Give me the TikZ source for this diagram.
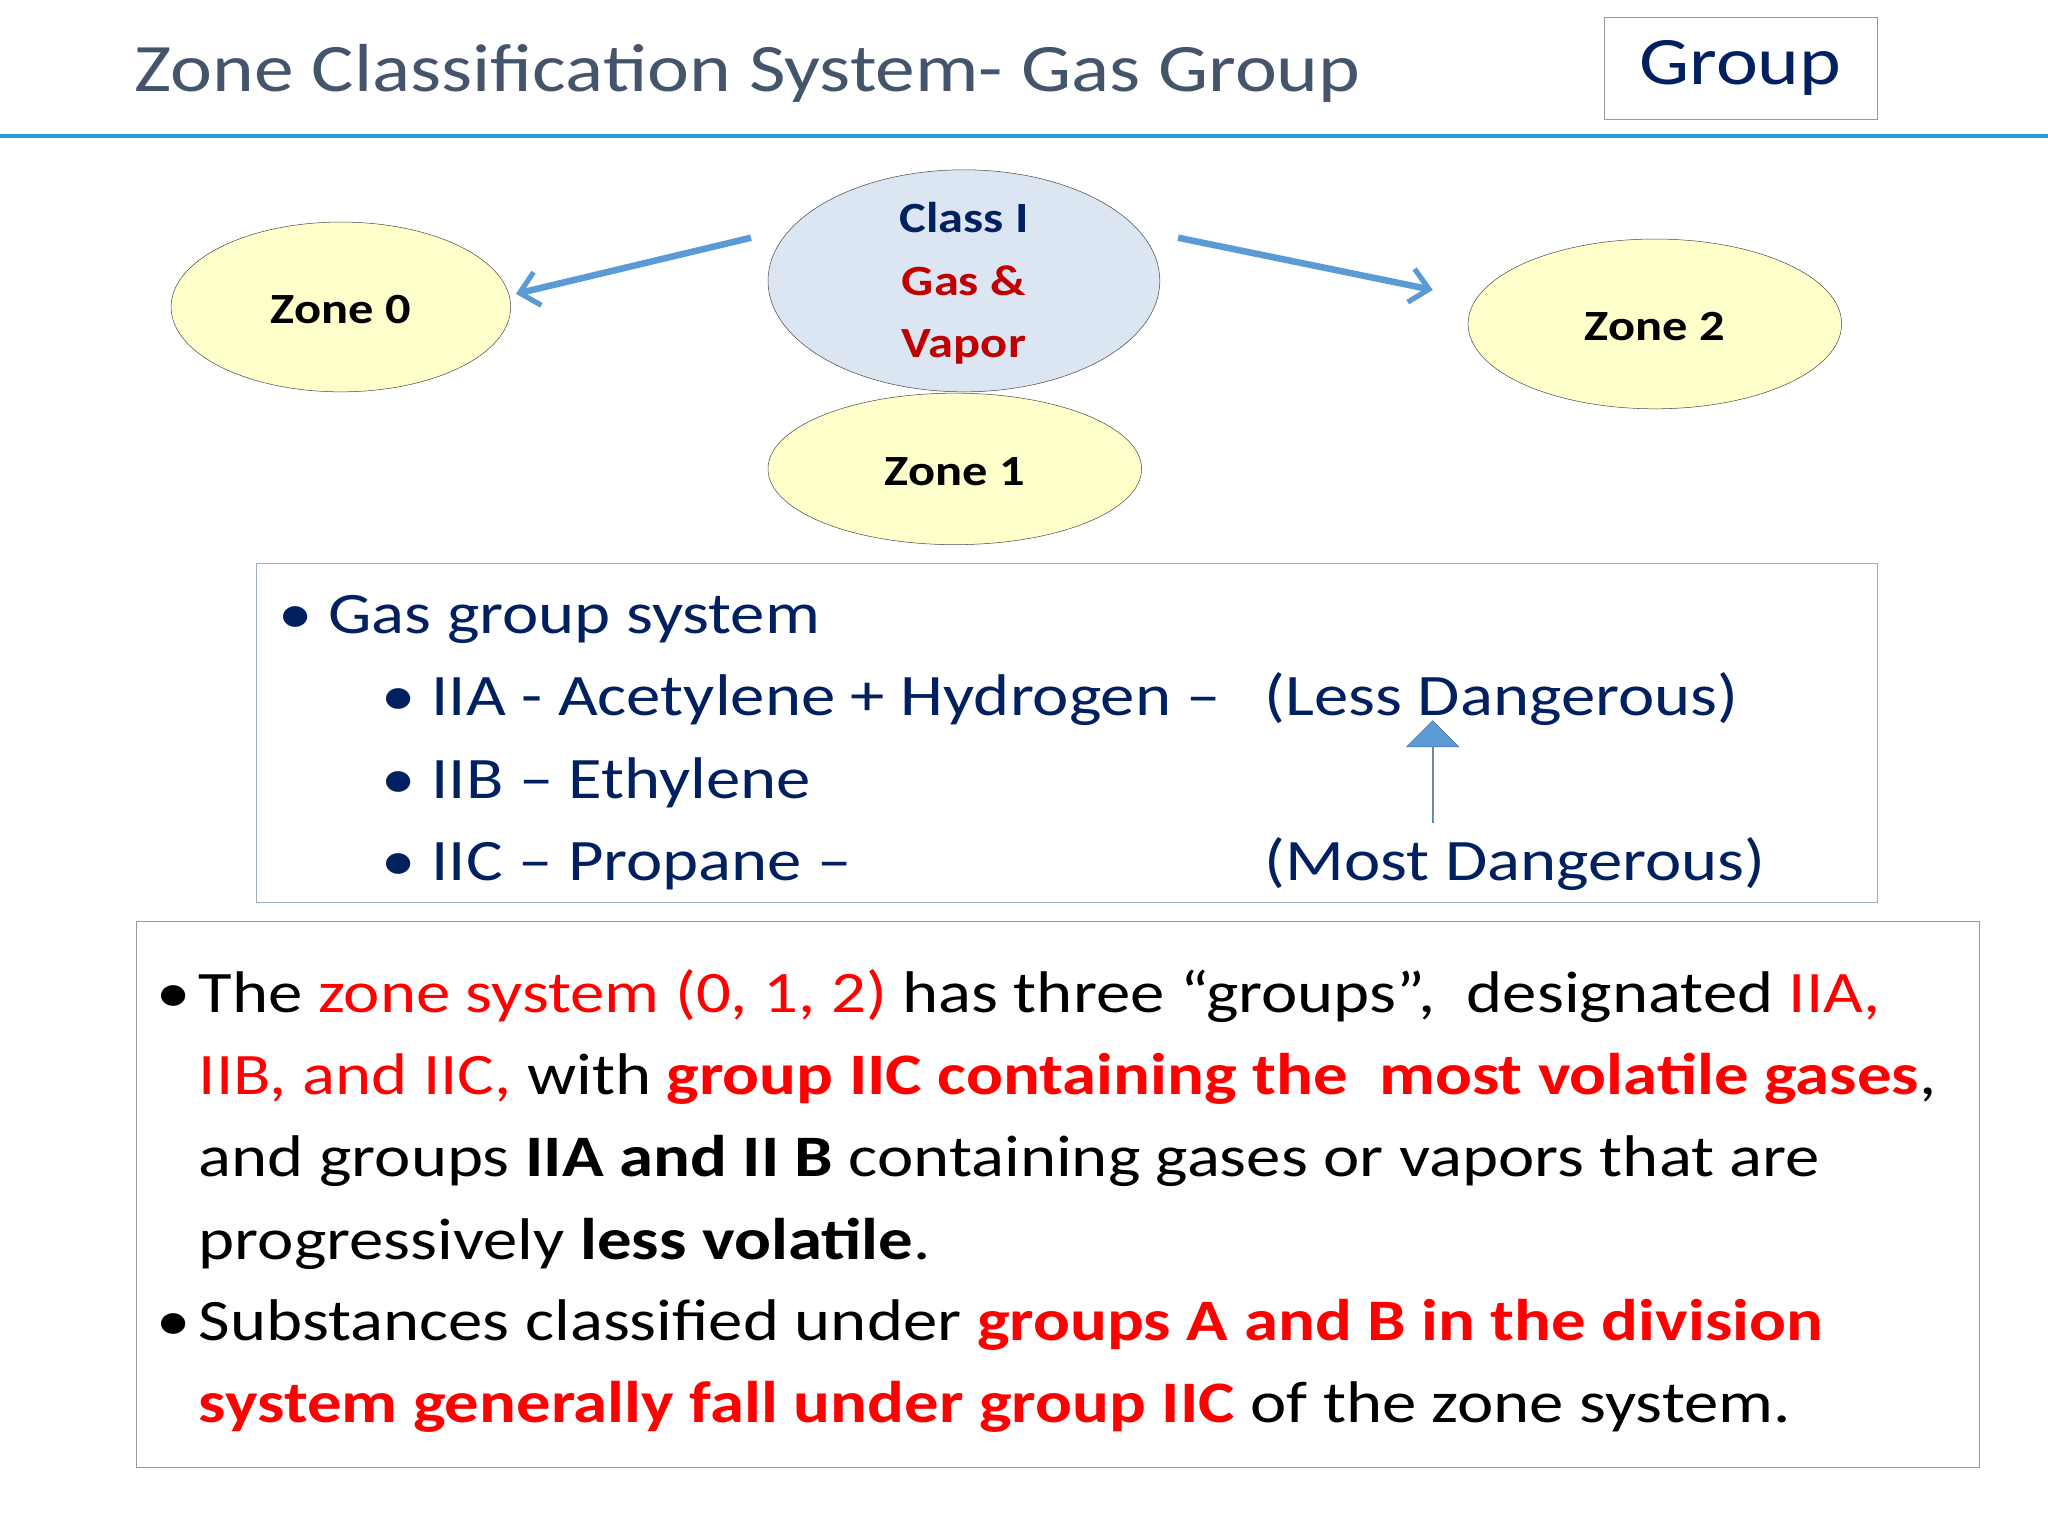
\documentclass[tikz,border=0pt]{standalone}
\usepackage{fontspec}
\setmainfont{Carlito}[FakeStretch=1.17]
\usetikzlibrary{arrows.meta,shapes.arrows}
\definecolor{navy}{HTML}{002060}
\definecolor{ttl}{HTML}{44546A}
\definecolor{line}{HTML}{1CA0DC}
\definecolor{arr}{HTML}{5B9BD5}
\definecolor{dred}{HTML}{C00000}
\definecolor{yel}{HTML}{FFFFCC}
\definecolor{lblue}{HTML}{DCE6F2}
\definecolor{rd}{HTML}{FF0000}
\tikzset{
 zone/.style={draw=black!70,thin},
 zlabel/.style={font=\fontsize{33}{38}\selectfont\bfseries},
 txt/.style={anchor=base west,inner sep=0pt,font=\fontsize{45}{54}\selectfont},
 conn/.style={draw=arr,line width=5pt,-{Straight Barb[length=14pt,width=26pt,line width=4pt]}},
 box/.style={draw=black!40,thin}
}
\newcommand{\rz}[1]{\textcolor{rd}{#1}}
\begin{document}
\begin{tikzpicture}[x=1pt,y=-1pt]
\useasboundingbox (0,0) rectangle (1568,1176);
\fill[white] (0,0) rectangle (1568,1176);
\node[txt,text=ttl,font=\fontsize{52}{60}\selectfont] (title) at (103,70) {Zone Classification System- Gas Group};
\node[draw=black!40,minimum width=209pt,minimum height=78pt,text=navy,font=\fontsize{52}{60}\selectfont] (grp) at (1332.5,52) {Group};
\draw[line,line width=3pt] (0,104) -- (1568,104);
% ellipses
\draw[zone,fill=yel] (261,235) ellipse [x radius=130,y radius=65];
\node[zlabel] (z0) at (261,237) {Zone 0};
\draw[zone,fill=lblue] (738,215) ellipse [x radius=150,y radius=85];
\node[zlabel,align=center,font=\fontsize{33}{48}\selectfont\bfseries] (c1) at (738,217) {\textcolor{navy}{Class I}\\\textcolor{dred}{Gas \&}\\\textcolor{dred}{Vapor}};
\draw[zone,fill=yel] (731,359) ellipse [x radius=143,y radius=58];
\node[zlabel] (z1) at (731,361) {Zone 1};
\draw[zone,fill=yel] (1267,248) ellipse [x radius=143,y radius=65];
\node[zlabel] (z2) at (1267,250) {Zone 2};
\coordinate (a1s) at (575,182); \coordinate (a1e) at (395,225);
\coordinate (a2s) at (902,182); \coordinate (a2e) at (1097,222);
\draw[conn] (a1s) -- (a1e);
\draw[conn] (a2s) -- (a2e);
% box 1
\draw[box,draw=arr!60!black!50] (196,431) rectangle (1437,691);
\begin{scope}[every node/.style={txt,text=navy}]
\node (g0) at (213,485) {• Gas group system};
\node (g1) at (292,548) {• IIA - Acetylene + Hydrogen –};
\node (g2) at (292,611) {• IIB – Ethylene};
\node (g3) at (292,674) {• IIC – Propane –};
\node (ld) at (968,548) {(Less Dangerous)};
\node (md) at (968,674) {(Most Dangerous)};
\end{scope}
\node[single arrow,shape border rotate=90,draw=arr!70!black,fill=arr,minimum height=78pt,minimum width=40pt,single arrow head extend=10pt,inner sep=0pt,text width=0pt,single arrow tip angle=90,single arrow head indent=0pt] (up) at (1097,591) {};
% box 2
\draw[box] (104,705) rectangle (1515,1123);
\begin{scope}[every node/.style={txt}]
\node (b1) at (120,775) {•};
\node (l1) at (152,775) {The \rz{zone system (0, 1, 2)} has three “groups”,\ \ designated \rz{IIA,}};
\node (l2) at (152,838) {\rz{IIB, and IIC,} with \rz{\bfseries group IIC containing the\ \ most volatile gases},};
\node (l3) at (152,901) {and groups \textbf{IIA and II B} containing gases or vapors that are};
\node (l4) at (152,964) {progressively \textbf{less volatile}.};
\node (b2) at (120,1026) {•};
\node (l5) at (152,1026) {Substances classified under \rz{\bfseries groups A and B in the division}};
\node (l6) at (152,1089) {\rz{\bfseries system generally fall under group IIC} of the zone system.};
\end{scope}
\end{tikzpicture}
\end{document}
